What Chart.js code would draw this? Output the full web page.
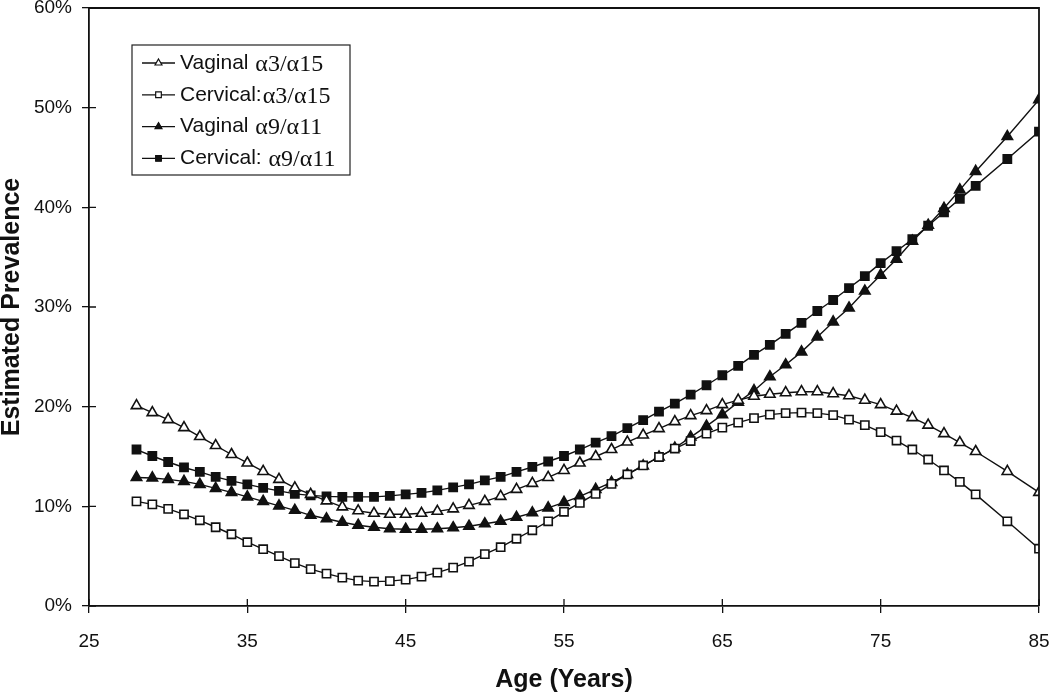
<!DOCTYPE html>
<html>
<head>
<meta charset="utf-8">
<script src="https://cdn.jsdelivr.net/npm/chart.js@4"></script>
<style>
    html, body { margin: 0; padding: 0; background: #fff; }
    #wrap { width: 1050px; height: 693px; }
</style>
</head>
<body>
<div id="wrap"><canvas id="prevChart" width="1050" height="693"></canvas></div>
<script>
// ages with a point (yearly to 81, then 83 and 85)
const ages = [
    28, 29, 30, 31, 32, 33, 34, 35, 36, 37,
    38, 39, 40, 41, 42, 43, 44, 45, 46, 47,
    48, 49, 50, 51, 52, 53, 54, 55, 56, 57,
    58, 59, 60, 61, 62, 63, 64, 65, 66, 67,
    68, 69, 70, 71, 72, 73, 74, 75, 76, 77,
    78, 79, 80, 81, 83, 85,
];

// estimated prevalence, percent
const vaginalA3 = [
    20.1, 19.4, 18.7, 17.9, 17.0, 16.1, 15.2, 14.35, 13.5, 12.7,
    11.85, 11.2, 10.55, 9.95, 9.55, 9.3, 9.2, 9.2, 9.3, 9.5,
    9.75, 10.1, 10.5, 11.0, 11.7, 12.3, 12.9, 13.6, 14.35, 15.0,
    15.7, 16.45, 17.15, 17.8, 18.5, 19.1, 19.6, 20.2, 20.65, 21.05,
    21.25, 21.4, 21.5, 21.5, 21.3, 21.1, 20.65, 20.2, 19.55, 18.9,
    18.15, 17.3, 16.4, 15.5, 13.5, 11.4,
];
const cervicalA3 = [
    10.5, 10.2, 9.75, 9.2, 8.6, 7.9, 7.2, 6.4, 5.7, 5.0,
    4.3, 3.7, 3.25, 2.85, 2.55, 2.45, 2.5, 2.65, 2.95, 3.35,
    3.85, 4.45, 5.2, 5.9, 6.75, 7.6, 8.5, 9.45, 10.35, 11.25,
    12.25, 13.2, 14.1, 14.95, 15.8, 16.55, 17.3, 17.9, 18.4, 18.85,
    19.2, 19.35, 19.4, 19.35, 19.15, 18.7, 18.15, 17.45, 16.6, 15.7,
    14.7, 13.6, 12.45, 11.2, 8.5, 5.75,
];
const vaginalA9 = [
    12.9, 12.85, 12.7, 12.5, 12.2, 11.8, 11.4, 10.95, 10.5, 10.05,
    9.6, 9.1, 8.75, 8.4, 8.1, 7.9, 7.75, 7.7, 7.7, 7.75,
    7.85, 8.0, 8.25, 8.5, 8.9, 9.35, 9.85, 10.4, 11.0, 11.7,
    12.4, 13.2, 14.05, 14.95, 15.85, 16.95, 18.05, 19.2, 20.45, 21.6,
    23.0, 24.2, 25.5, 27.0, 28.5, 29.9, 31.6, 33.2, 34.8, 36.6,
    38.2, 39.9, 41.75, 43.6, 47.1, 50.8,
];
const cervicalA9 = [
    15.7, 15.05, 14.45, 13.9, 13.45, 12.95, 12.55, 12.2, 11.85, 11.55,
    11.25, 11.1, 11.0, 10.95, 10.95, 10.95, 11.05, 11.2, 11.35, 11.6,
    11.9, 12.2, 12.6, 12.95, 13.45, 13.95, 14.5, 15.05, 15.7, 16.4,
    17.05, 17.85, 18.65, 19.5, 20.3, 21.2, 22.15, 23.15, 24.1, 25.2,
    26.2, 27.3, 28.4, 29.6, 30.7, 31.9, 33.1, 34.4, 35.6, 36.8,
    38.15, 39.5, 40.85, 42.15, 44.85, 47.6,
];

// legend text: sans part + greek part (serif)
const legendNames = [
    ["Vaginal ", "α3/α15"],
    ["Cervical:", "α3/α15"],
    ["Vaginal ", "α9/α11"],
    ["Cervical: ", "α9/α11"],
];

const xTicks = [25, 35, 45, 55, 65, 75, 85];
const yTicks = [0, 10, 20, 30, 40, 50, 60];

const SANS = "'Liberation Sans', Arial, sans-serif";
const SERIF = "'Liberation Serif', 'Times New Roman', serif";

function toPoints(values) {
    return ages.map((a, i) => ({ x: a, y: values[i] }));
}

function makeSet(values, style, filled) {
    return {
        data: toPoints(values),
        borderColor: "#111",
        borderWidth: 1.4,
        pointStyle: style,
        pointRadius: style === "triangle" ? 6 : 5.8,
        pointBorderWidth: 1.6,
        pointBorderColor: "#111",
        pointBackgroundColor: filled ? "#111" : "#fff",
        tension: 0,
        fill: false,
    };
}

// box on top and right, plus the inner half of each tick
const framePlugin = {
    id: "frame",
    afterDraw(chart) {
        const ctx = chart.ctx;
        const a = chart.chartArea;
        const xs = chart.scales.x;
        const ys = chart.scales.y;
        ctx.save();
        ctx.strokeStyle = "#111";
        ctx.lineWidth = 1.8;
        ctx.beginPath();
        ctx.moveTo(a.left, a.top);
        ctx.lineTo(a.right, a.top);
        ctx.lineTo(a.right, a.bottom);
        ctx.stroke();
        ctx.lineWidth = 1.3;
        ctx.beginPath();
        xTicks.forEach((t) => {
            const px = xs.getPixelForValue(t);
            ctx.moveTo(px, a.bottom);
            ctx.lineTo(px, a.bottom - 7);
        });
        yTicks.forEach((t) => {
            const py = ys.getPixelForValue(t);
            ctx.moveTo(a.left, py);
            ctx.lineTo(a.left + 7, py);
        });
        ctx.stroke();
        ctx.restore();
    },
};

// legend with mixed fonts
const legendPlugin = {
    id: "mixedLegend",
    afterDraw(chart) {
        const ctx = chart.ctx;
        const box = { x: 132, y: 45, w: 218, h: 130 };
        ctx.save();
        ctx.fillStyle = "#fff";
        ctx.fillRect(box.x, box.y, box.w, box.h);
        ctx.strokeStyle = "#222";
        ctx.lineWidth = 1.2;
        ctx.strokeRect(box.x, box.y, box.w, box.h);

        chart.data.datasets.forEach((ds, i) => {
            const cy = 63 + i * 31.8;
            ctx.strokeStyle = "#111";
            ctx.lineWidth = 1.3;
            ctx.beginPath();
            ctx.moveTo(142, cy);
            ctx.lineTo(175, cy);
            ctx.stroke();
            ctx.fillStyle = ds.pointBackgroundColor;
            ctx.strokeStyle = "#111";
            ctx.lineWidth = 1.2;
            Chart.helpers.drawPoint(ctx, {
                pointStyle: ds.pointStyle,
                radius: 4,
                rotation: 0,
                borderWidth: 1.2,
            }, 158.5, cy);
            if (ds.pointBackgroundColor !== "#fff") ctx.fill();

            ctx.fillStyle = "#111";
            ctx.textBaseline = "middle";
            ctx.textAlign = "left";
            ctx.font = "21px " + SANS;
            const name = legendNames[i];
            ctx.fillText(name[0], 180, cy);
            const w = ctx.measureText(name[0]).width;
            ctx.font = "24px " + SERIF;
            ctx.fillText(name[1], 180 + w + 1, cy + 1.5);
        });
        ctx.restore();
    },
};

const ctx = document.getElementById("prevChart").getContext("2d");

new Chart(ctx, {
    type: "line",
    data: {
        datasets: [
            makeSet(vaginalA3, "triangle", false),
            makeSet(cervicalA3, "rect", false),
            makeSet(vaginalA9, "triangle", true),
            makeSet(cervicalA9, "rect", true),
        ],
    },
    options: {
        responsive: false,
        animation: false,
        layout: { padding: { top: 8, right: 11, bottom: 0, left: 0 } },
        plugins: {
            legend: { display: false },
            tooltip: { enabled: false },
        },
        scales: {
            x: {
                type: "linear",
                min: 25,
                max: 85,
                afterBuildTicks(scale) {
                    scale.ticks = xTicks.map((v) => ({ value: v }));
                },
                afterFit(scale) {
                    scale.height = 87;
                    scale.paddingLeft = 0;
                    scale.paddingRight = 0;
                },
                grid: {
                    drawOnChartArea: false,
                    tickLength: 7,
                    color: "#111",
                    lineWidth: 1.3,
                },
                border: { color: "#111", width: 1.8 },
                ticks: {
                    color: "#111",
                    padding: 17,
                    maxRotation: 0,
                    font: { family: SANS, size: 19 },
                },
                title: {
                    display: true,
                    text: "Age (Years)",
                    color: "#111",
                    padding: { top: 0, bottom: 0 },
                    font: { family: SANS, size: 25, weight: "bold", lineHeight: 1 },
                },
            },
            y: {
                min: 0,
                max: 60,
                afterBuildTicks(scale) {
                    scale.ticks = yTicks.map((v) => ({ value: v }));
                },
                afterFit(scale) {
                    scale.width = 89;
                    scale.paddingTop = 0;
                    scale.paddingBottom = 0;
                },
                grid: {
                    drawOnChartArea: false,
                    tickLength: 7,
                    color: "#111",
                    lineWidth: 1.3,
                },
                border: { color: "#111", width: 1.8 },
                ticks: {
                    color: "#111",
                    padding: 10,
                    font: { family: SANS, size: 19 },
                    callback: (v) => v + "%",
                },
                title: {
                    display: true,
                    text: "Estimated Prevalence",
                    color: "#111",
                    padding: { top: 0, bottom: 0 },
                    font: { family: SANS, size: 25, weight: "bold", lineHeight: 1 },
                },
            },
        },
    },
    plugins: [framePlugin, legendPlugin],
});
</script>
</body>
</html>
